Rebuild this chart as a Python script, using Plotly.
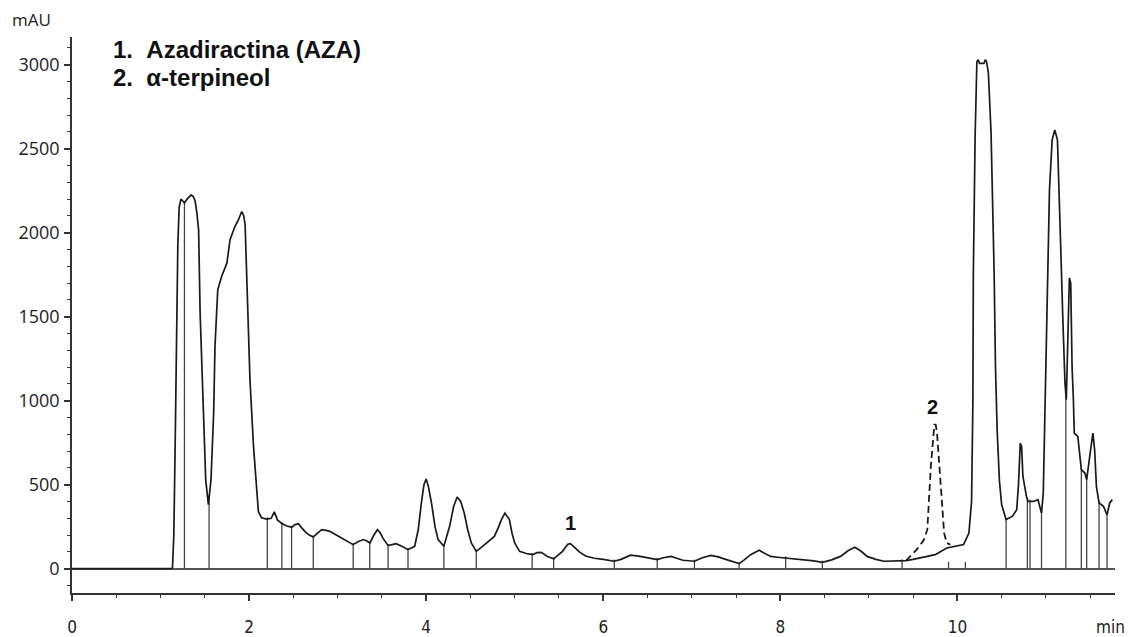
import numpy as np
import plotly.graph_objects as go

# ---------------- data ----------------
time_min = [0.0, 1.12, 1.135, 1.15, 1.165, 1.18, 1.195, 1.21, 1.23, 1.25, 1.27, 1.30, 1.345, 1.37, 1.39, 1.41,
            1.43, 1.447, 1.465, 1.485, 1.51, 1.54, 1.57, 1.6, 1.615, 1.646, 1.69, 1.75, 1.785, 1.84, 1.88,
            1.917, 1.94, 1.955, 1.973, 2.01, 2.05, 2.08, 2.105, 2.14, 2.2, 2.25, 2.285, 2.32, 2.37, 2.42,
            2.48, 2.52, 2.556, 2.6, 2.63, 2.68, 2.725, 2.77, 2.82, 2.87, 2.91, 2.97, 3.04, 3.1, 3.175,
            3.23, 3.29, 3.33, 3.365, 3.41, 3.45, 3.48, 3.51, 3.57, 3.62, 3.66, 3.72, 3.795, 3.87, 3.91,
            3.946, 3.975, 4.0, 4.025, 4.06, 4.1, 4.135, 4.2, 4.265, 4.31, 4.35, 4.39, 4.43, 4.47, 4.51,
            4.566, 4.62, 4.66, 4.72, 4.77, 4.82, 4.85, 4.89, 4.94, 4.97, 5.0, 5.055, 5.13, 5.205, 5.25,
            5.3, 5.37, 5.44, 5.5, 5.54, 5.6, 5.63, 5.67, 5.73, 5.8, 5.9, 6.0, 6.125, 6.2, 6.31, 6.4,
            6.46, 6.61, 6.68, 6.765, 6.83, 6.9, 7.03, 7.12, 7.215, 7.3, 7.365, 7.45, 7.535, 7.6, 7.665,
            7.76, 7.83, 7.89, 7.97, 8.06, 8.17, 8.27, 8.38, 8.475, 8.58, 8.68, 8.76, 8.84, 8.91, 8.98,
            9.08, 9.17, 9.3, 9.42, 9.5, 9.6, 9.75, 9.88, 10.07, 10.13, 10.16, 10.175, 10.18, 10.2, 10.22,
            10.235, 10.25, 10.30, 10.315, 10.33, 10.35, 10.38, 10.40, 10.415, 10.43, 10.45, 10.475, 10.5,
            10.55, 10.62, 10.67, 10.69, 10.71, 10.725, 10.74, 10.78, 10.80, 10.86, 10.91, 10.95, 10.97,
            10.99, 11.01, 11.04, 11.07, 11.10, 11.13, 11.15, 11.17, 11.19, 11.215, 11.23, 11.25, 11.265,
            11.28, 11.295, 11.31, 11.32, 11.36, 11.38, 11.4, 11.44, 11.46, 11.49, 11.53, 11.55, 11.57,
            11.6, 11.65, 11.69, 11.72, 11.75]
absorbance_mAU = [0, 0, 5, 200, 728, 1400, 1918, 2150, 2200, 2190, 2178, 2200, 2225, 2215, 2190, 2120,
                  2017, 1522, 1200, 928, 530, 381, 530, 928, 1323, 1660, 1739, 1820, 1958, 2037, 2077,
                  2126, 2100, 2050, 1720, 1125, 728, 500, 340, 303, 295, 300, 338, 290, 268, 255,
                  246, 262, 268, 240, 222, 200, 188, 210, 232, 228, 222, 205, 183, 165, 143,
                  160, 173, 165, 153, 200, 232, 215, 183, 137, 145, 149, 135, 113, 133, 230,
                  391, 500, 534, 490, 391, 250, 173, 133, 252, 370, 427, 400, 331, 230, 153,
                  103, 125, 143, 170, 192, 250, 292, 331, 292, 210, 153, 103, 90, 83, 95,
                  97, 72, 58, 85, 103, 145, 149, 130, 100, 75, 62, 55, 44, 55, 80, 75,
                  69, 54, 65, 73, 62, 50, 44, 65, 79, 70, 58, 42, 30, 55, 83,
                  109, 90, 73, 68, 63, 58, 54, 46, 38, 52, 73, 105, 127, 105, 73,
                  55, 44, 44, 48, 55, 65, 83, 123, 143, 212, 400, 1000, 1760, 2570, 3018,
                  3030, 3008, 3008, 3030, 3018, 2950, 2600, 2150, 1760, 1200, 810, 520, 380,
                  292, 311, 351, 500, 748, 728, 549, 430, 400, 400, 411, 331, 450,
                  1006, 1650, 2255, 2553, 2612, 2553, 2255, 1860, 1500, 1105, 1006, 1400, 1731,
                  1700, 1204, 1006, 807, 787, 668, 589, 569, 530, 649, 807, 708, 490,
                  391, 371, 321, 391, 411]

# alpha-terpineol peak (dashed)
terp_time = [9.42, 9.54, 9.62, 9.66, 9.70, 9.74, 9.755, 9.77, 9.81, 9.85, 9.88, 9.92]
terp_mAU = [48, 113, 170, 232, 609, 857, 857, 807, 510, 212, 153, 143]

# integration drop lines
drop_times = [1.27, 1.548, 2.206, 2.37, 2.48, 2.725, 3.176, 3.363, 3.57, 3.795, 4.2, 4.566,
              5.197, 5.44, 6.125, 6.61, 7.03, 7.535, 8.06, 8.475, 9.375,
              10.55, 10.79, 10.82, 10.95, 11.225, 11.4, 11.46, 11.6, 11.69]
short_mark_times = [9.9, 10.09]
short_mark_mAU = [40, 40]

x_ticks = [0, 2, 4, 6, 8, 10]
y_ticks = [0, 500, 1000, 1500, 2000, 2500, 3000]
legend_lines = ["1.&nbsp;&nbsp;Azadiractina (AZA)", "2.&nbsp;&nbsp;α-terpineol"]
legend_mAU = [3088, 2921]
peak_labels = ["1", "2"]
peak_label_time = [5.63, 9.72]
peak_label_mAU = [274, 964]

# ---------------- figure ----------------
fig = go.Figure()

# drop lines
dx, dy = [], []
tops = np.interp(drop_times, time_min, absorbance_mAU)
for t, h in zip(drop_times, tops):
    dx += [t, t, None]
    dy += [0, h + 10, None]
for t, h in zip(short_mark_times, short_mark_mAU):
    dx += [t, t, None]
    dy += [0, h, None]
fig.add_trace(go.Scatter(x=dx, y=dy, mode="lines", line=dict(color="#444444", width=1.3),
                         hoverinfo="skip", showlegend=False))

fig.add_trace(go.Scatter(x=terp_time, y=terp_mAU, mode="lines",
                         line=dict(color="#1a1a1a", width=1.8, dash="7px,4px"),
                         showlegend=False))

fig.add_trace(go.Scatter(x=time_min, y=absorbance_mAU, mode="lines",
                         line=dict(color="#1a1a1a", width=1.7), showlegend=False))

axis_font = dict(family="Open Sans, sans-serif", size=18, color="#222222")
xfont = dict(family="DejaVu Sans Condensed, DejaVu Sans, sans-serif", size=17, color="#222222")

fig.update_layout(
    width=1129, height=637,
    margin=dict(l=72, r=14, t=37, b=44, autoexpand=False),
    paper_bgcolor="white", plot_bgcolor="white",
    xaxis=dict(range=[0, 11.78], tickmode="array", tickvals=x_ticks,
               ticktext=[str(v) for v in x_ticks],
               showline=True, linecolor="#333333", linewidth=1.5,
               ticks="outside", ticklen=6, tickwidth=1.5, tickcolor="#333333",
               minor=dict(dtick=0.5, tick0=0, ticks="outside", ticklen=3, tickcolor="#333333", tickwidth=1.2),
               showgrid=False, zeroline=False, automargin=False,
               tickfont=xfont, ticklabelstandoff=12),
    yaxis=dict(range=[-145, 3165], tickmode="array", tickvals=y_ticks,
               ticktext=[str(v) for v in y_ticks],
               showline=True, linecolor="#333333", linewidth=1.5,
               ticks="outside", ticklen=6, tickwidth=1.5, tickcolor="#333333",
               minor=dict(dtick=100, tick0=0, ticks="outside", ticklen=3, tickcolor="#333333", tickwidth=1.2),
               showgrid=False, zeroline=True, zerolinecolor="#555555", zerolinewidth=1.5,
               automargin=False, tickfont=axis_font, ticklabelstandoff=1),
)

ann = []
ann.append(dict(text="mAU", xref="paper", yref="paper", x=-0.0385, y=1.0306,
                xanchor="center", yanchor="middle", showarrow=False,
                font=dict(family="Open Sans, sans-serif", size=17, color="#222222")))
ann.append(dict(text="min", xref="x", yref="paper", x=11.73, y=-0.061,
                xanchor="center", yanchor="middle", showarrow=False, font=xfont))
for line, v in zip(legend_lines, legend_mAU):
    ann.append(dict(text="<b>" + line + "</b>", xref="x", yref="y", x=0.44, y=v,
                    xanchor="left", yanchor="middle", showarrow=False,
                    font=dict(family="Liberation Sans, Arial, sans-serif", size=24, color="#111111")))
for lab, t, v in zip(peak_labels, peak_label_time, peak_label_mAU):
    ann.append(dict(text="<b>" + lab + "</b>", xref="x", yref="y", x=t, y=v,
                    xanchor="center", yanchor="middle", showarrow=False,
                    font=dict(family="Liberation Sans, Arial, sans-serif", size=20, color="#111111")))
fig.update_layout(annotations=ann)

# remove the default 8px page margin so the figure fills the 1129x637 window exactly
fig.write_html("out.html", config={"displayModeBar": False},
               post_script="document.body.style.margin='0';document.body.style.overflow='hidden';")
